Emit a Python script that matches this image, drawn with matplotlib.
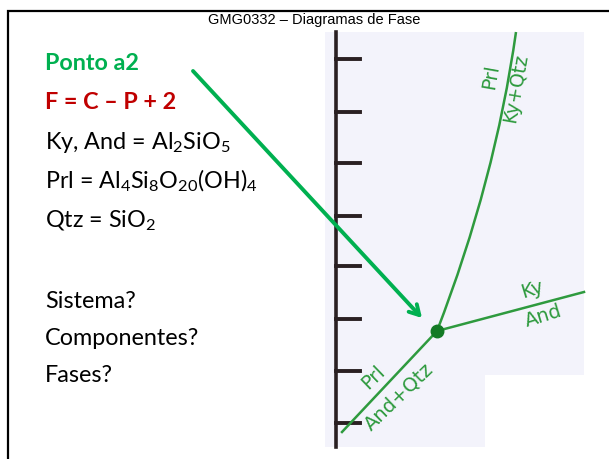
import matplotlib
matplotlib.use("Agg")
import matplotlib.pyplot as plt
from matplotlib.patches import Polygon, PathPatch
from matplotlib.path import Path

W, H = 609, 459
plt.rcParams['mathtext.fontset'] = 'custom'
plt.rcParams['mathtext.rm'] = 'Lato'
plt.rcParams['mathtext.it'] = 'Lato:italic'
plt.rcParams['mathtext.bf'] = 'Lato:bold'

# ---- data (pixel-space reading of the slide) ----
title = "GMG0332 – Diagramas de Fase"
text_lines = ["Ponto a2", "F = C – P + 2", "Ky, And = Al$_2$SiO$_5$",
              "Prl = Al$_4$Si$_8$O$_{20}$(OH)$_4$", "Qtz = SiO$_2$",
              "Sistema?", "Componentes?", "Fases?"]
text_baselines = [70, 109, 149, 188, 227, 308, 345, 382]
text_colors = ["#00B050", "#C00000", "black", "black", "black", "black", "black", "black"]
text_bold = [True, True, False, False, False, False, False, False]

tick_y = [59, 112, 163, 216, 266, 319, 371, 423]
axis_top, axis_bottom, axis_x, tick_len = 32, 447, 336, 24

triple = (437, 331)
# quadratic Bezier (start, control, end) for Prl / Ky+Qtz curve
upper_curve = [(437, 331), (495, 181), (516, 32)]
right_x = [437, 584]
right_y = [331, 292]
lower_x = [437, 342]
lower_y = [331, 432]

arrow_start = (193, 71)
arrow_end = (422, 318)

labels = ["Prl", "Ky+Qtz", "Ky", "And", "Prl", "And+Qtz"]
label_xy = [(491, 77), (516, 88), (532, 290), (543, 316), (373, 377), (399, 397)]
label_rot = [80, 80, 17, 17, 44, 44]
label_sizes = [14, 13.5, 14, 14, 14, 14]

# ---- figure ----
fig = plt.figure(figsize=(W / 100, H / 100), dpi=100)
ax = fig.add_axes([0, 0, 1, 1])
ax.set_xlim(0, W)
ax.set_ylim(H, 0)
ax.axis('off')

# slide border
ax.plot([8, 8, W + 5], [H + 5, 11, 11], color='black', lw=1.6, solid_joinstyle='miter')

# title
ax.text(314, 20, title, ha='center', va='center', fontsize=10.5,
        family='Liberation Sans', color='black')

# image background (L-shaped scan)
img = Polygon([(325, 32), (584, 32), (584, 375), (485, 375), (485, 447), (325, 447)],
              closed=True, facecolor='#F3F3FB', edgecolor='none')
ax.add_patch(img)

# axis with ticks
ax.plot([axis_x, axis_x], [axis_top, axis_bottom], color='#2a2022', lw=2.6)
for ty in tick_y:
    ax.plot([axis_x, axis_x + tick_len], [ty, ty], color='#2a2022', lw=2.8)

line_c = '#2E9A3E'
curve = Path(upper_curve, [Path.MOVETO, Path.CURVE3, Path.CURVE3])
ax.add_patch(PathPatch(curve, facecolor='none', edgecolor=line_c, lw=1.8))
ax.plot(right_x, right_y, color=line_c, lw=1.8)
ax.plot(lower_x, lower_y, color=line_c, lw=1.8)
ax.plot([triple[0]], [triple[1]], 'o', color='#137A25', ms=9)

for s, (x, y), r, fs in zip(labels, label_xy, label_rot, label_sizes):
    ax.text(x, y, s, ha='center', va='center', rotation=r, fontsize=fs,
            family='Liberation Sans Narrow', color='#2E9A3E')

# arrow
ax.annotate('', xy=arrow_end, xytext=arrow_start,
            arrowprops=dict(arrowstyle='->,head_length=0.7,head_width=0.4',
                            color='#00B050', lw=2.8, shrinkA=0, shrinkB=0))

# left text
for s, yb, c, b in zip(text_lines, text_baselines, text_colors, text_bold):
    ax.text(45, yb, s, ha='left', va='baseline', fontsize=16.8, family='Lato',
            color=c, fontweight='bold' if b else 'normal')

fig.savefig('out.png', dpi=100)
